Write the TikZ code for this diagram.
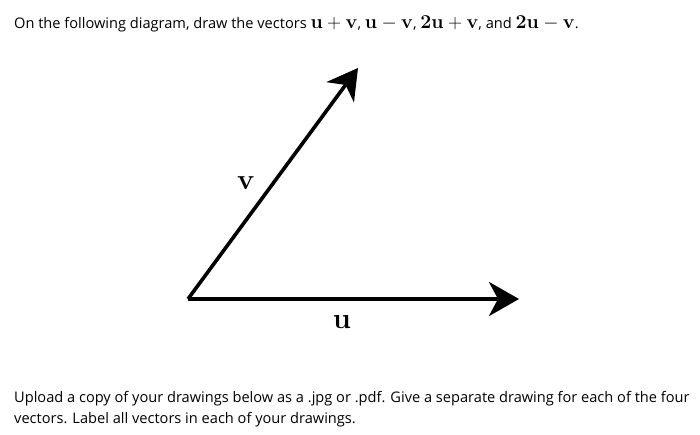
\RequirePackage{fix-cm}
\documentclass[tikz,border=0pt]{standalone}
\usepackage[no-math]{fontspec}
\setmainfont{Open Sans}
\usetikzlibrary{arrows.meta}
\newcommand{\mymath}[1]{{\fontsize{19.6}{22}\selectfont$#1$}}
\begin{document}
\begin{tikzpicture}[x=1pt,y=-1pt,
  vec/.style={line width=3.6pt, -{Stealth[length=30pt,width=34pt,inset=9pt]}},
  txt/.style={anchor=base west, inner sep=0pt, font=\fontsize{14.6}{20}\selectfont},
  lbl/.style={inner sep=0pt, font=\fontsize{29}{29}\selectfont}]
\useasboundingbox (0,0) rectangle (700,434);
\node[txt] (title) at (14,28) {On the following diagram, draw the vectors \mymath{\mathbf{u}+\mathbf{v}}, \mymath{\mathbf{u}-\mathbf{v}}, \mymath{\mathbf{2u}+\mathbf{v}}, and \mymath{\mathbf{2u}-\mathbf{v}}.};
\coordinate (o) at (188,299);
\coordinate (ue) at (519,299);
\coordinate (ve) at (358,68);
\draw[vec] (o) -- (ue);
\draw[vec] (o) -- (ve);
\node[lbl] (vl) at (246,183) {$\mathbf{v}$};
\node[lbl] (ul) at (342,322) {$\mathbf{u}$};
\node[txt] (foot1) at (14,402) {Upload a copy of your drawings below as a .jpg or .pdf. Give a separate drawing for each of the four};
\node[txt] (foot2) at (14,423) {vectors. Label all vectors in each of your drawings.};
\end{tikzpicture}
\end{document}
